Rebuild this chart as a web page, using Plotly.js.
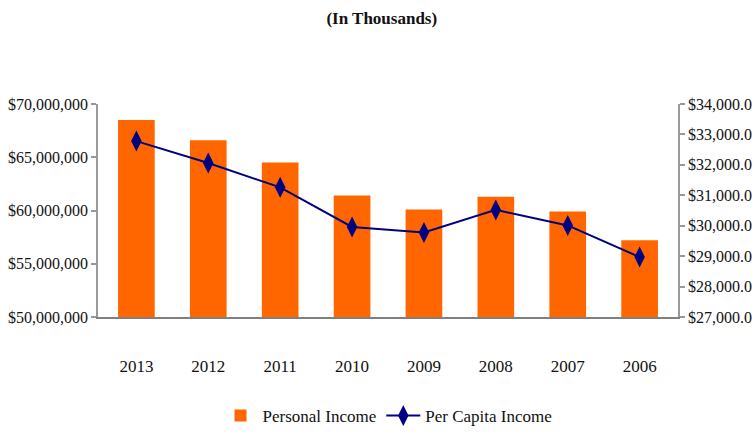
<!DOCTYPE html>
<html>
<head>
<meta charset="utf-8">
<script src="https://cdn.plot.ly/plotly-3.0.1.min.js"></script>
<style>html,body{margin:0;padding:0;background:#fff;}#chart{width:756px;height:446px;}</style>
</head>
<body>
<div id="chart"></div>
<script>
var years = ["2013", "2012", "2011", "2010", "2009", "2008", "2007", "2006"];
var personalIncome = [68500000, 66600000, 64500000, 61400000, 60100000, 61300000, 59900000, 57200000];
var perCapitaIncome = [32780, 32060, 31260, 29960, 29780, 30520, 30010, 28970];
var leftTicks = [50000000, 55000000, 60000000, 65000000, 70000000];
var leftTickText = ["$50,000,000", "$55,000,000", "$60,000,000", "$65,000,000", "$70,000,000"];
var rightTicks = [27000, 28000, 29000, 30000, 31000, 32000, 33000, 34000];
var rightTickText = ["$27,000.0", "$28,000.0", "$29,000.0", "$30,000.0", "$31,000.0", "$32,000.0", "$33,000.0", "$34,000.0"];

var fontFam = "'Liberation Serif', 'Times New Roman', serif";

var traces = [
  {
    type: 'bar', name: 'Personal Income', x: years, y: personalIncome,
    marker: {color: '#FF6600'}, width: 0.51, yaxis: 'y'
  },
  {
    type: 'scatter', mode: 'lines+markers', name: 'Per Capita Income',
    x: years, y: perCapitaIncome, yaxis: 'y2',
    line: {color: '#000080', width: 2},
    marker: {symbol: 'diamond-tall', size: 15, color: '#000080'}
  }
];

var layout = {
  width: 756, height: 446,
  margin: {l: 98, r: 78, t: 104, b: 118},
  paper_bgcolor: '#fff', plot_bgcolor: '#fff',
  font: {family: fontFam, size: 15, color: '#111'},
  title: {text: '<b>(In Thousands)</b>', x: 0.505, xanchor: 'center', y: 0.96, yanchor: 'middle',
          font: {family: fontFam, size: 17, color: '#111'}},
  showlegend: true,
  legend: {orientation: 'h', x: 0.5, xanchor: 'center', y: -0.464, yanchor: 'middle',
           font: {family: fontFam, size: 17, color: '#111'}, traceorder: 'normal', itemwidth: 34},
  bargap: 0.49,
  xaxis: {
    type: 'category', showgrid: false, zeroline: false,
    showline: true, linecolor: '#808080', linewidth: 2,
    ticks: 'outside', ticklen: 33, tickcolor: 'rgba(0,0,0,0)',
    tickfont: {family: fontFam, size: 17, color: '#111'}
  },
  yaxis: {
    range: [50000000, 70000000], tickmode: 'array', tickvals: leftTicks, ticktext: leftTickText,
    showgrid: false, zeroline: false, showline: true, linecolor: '#999', linewidth: 1.5,
    ticks: 'outside', ticklen: 5, tickcolor: '#999', tickwidth: 1.5,
    tickfont: {family: fontFam, size: 16, color: '#111'}
  },
  yaxis2: {
    range: [27000, 34000], tickmode: 'array', tickvals: rightTicks, ticktext: rightTickText,
    overlaying: 'y', side: 'right',
    showgrid: false, zeroline: false, showline: true, linecolor: '#999', linewidth: 1.5,
    ticks: 'outside', ticklen: 5, tickcolor: '#999', tickwidth: 1.5,
    tickfont: {family: fontFam, size: 16, color: '#111'}
  }
};

Plotly.newPlot('chart', traces, layout, {displayModeBar: false, responsive: false});
</script>
</body>
</html>
